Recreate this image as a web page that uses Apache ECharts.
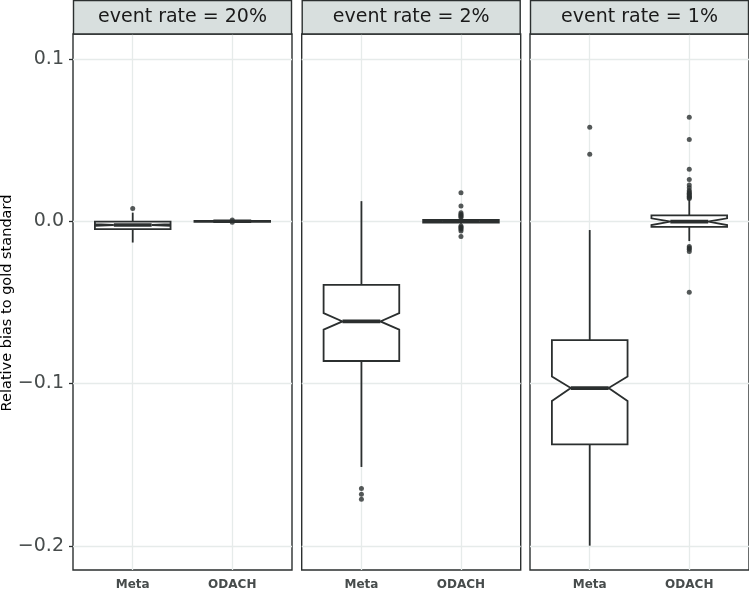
<!DOCTYPE html>
<html><head><meta charset="utf-8">
<script src="https://cdn.jsdelivr.net/npm/echarts@6/dist/echarts.min.js"></script>
<style>html,body{margin:0;padding:0;background:#fff}#c{width:749px;height:591px}</style>
</head><body><div id="c"></div>
<script>
// ---- data ----
const categories = ['Meta', 'ODACH'];
const panelTitles = ['event rate = 20%', 'event rate = 2%', 'event rate = 1%'];
const yTicks = [-0.2, -0.1, 0.0, 0.1];
const yTitle = 'Relative bias to gold standard';
// box stats: [lowerWhisker, q1, notchLow, median, notchHigh, q3, upperWhisker]
const rate20Meta  = [-0.0131, -0.0048, -0.0028, -0.0023, -0.0018, -0.0002, 0.0053];
const rate20ODACH = [-0.0006, -0.0003, -0.0001, 0.0000, 0.0001, 0.0003, 0.0006];
const rate2Meta   = [-0.1514, -0.0861, -0.0668, -0.0617, -0.0566, -0.0392, 0.0124];
const rate2ODACH  = [-0.0015, -0.0008, -0.0001, 0.0000, 0.0001, 0.0008, 0.0015];
const rate1Meta   = [-0.1999, -0.1375, -0.1108, -0.1028, -0.0957, -0.0732, -0.0054];
const rate1ODACH  = [-0.0122, -0.0034, -0.0023, -0.0002, 0.0018, 0.0036, 0.0135];
// outliers
const rate20MetaOut  = [0.0079];
const rate20ODACHOut = [0.0008, -0.0006];
const rate2MetaOut   = [-0.1647, -0.1682, -0.1713];
const rate2ODACHOut  = [0.0176, 0.0094, 0.0053, 0.0043, 0.0037, 0.0030, 0.0023, -0.0029, -0.0035, -0.0042, -0.0049, -0.0060, -0.0094];
const rate1MetaOut   = [0.0579, 0.0413];
const rate1ODACHOut  = [0.0641, 0.0504, 0.0320, 0.0258, 0.0223, 0.0207, 0.0190, 0.0180, 0.0172, 0.0166, 0.0158, 0.0152, 0.0146, 0.0140,
                        -0.0156, -0.0165, -0.0172, -0.0186, -0.0438];

const boxes = [[rate20Meta, rate20ODACH], [rate2Meta, rate2ODACH], [rate1Meta, rate1ODACH]];
const outs = [[rate20MetaOut, rate20ODACHOut], [rate2MetaOut, rate2ODACHOut], [rate1MetaOut, rate1ODACHOut]];

// ---- layout ----
const FONT = 'DejaVu Sans';
const panelLefts = [73, 301.7, 530];
const panelW = 219, panelTop = 34, panelBottom = 19.3;
const yMin = -0.2149, yMax = 0.1154;
const INK = '#2b2f2f', GRIDC = '#e6ebea';

const chart = echarts.init(document.getElementById('c'), null, {renderer: 'canvas'});

function renderBox(params, api) {
  const x = api.value(0);
  const lw = api.value(1), q1 = api.value(2), nl = api.value(3), med = api.value(4),
        nh = api.value(5), q3 = api.value(6), uw = api.value(7);
  const hw = 0.38;
  const P = (xx, yy) => api.coord([xx, yy]);
  const poly = [P(x - hw, q3), P(x + hw, q3), P(x + hw, nh), P(x + hw / 2, med), P(x + hw, nl),
                P(x + hw, q1), P(x - hw, q1), P(x - hw, nl), P(x - hw / 2, med), P(x - hw, nh)];
  const a = P(x, q3), b = P(x, uw), c = P(x, q1), d = P(x, lw);
  const m1 = P(x - hw / 2, med), m2 = P(x + hw / 2, med);
  const ls = {stroke: INK, lineWidth: 1.8};
  return {type: 'group', children: [
    {type: 'line', shape: {x1: a[0], y1: a[1], x2: b[0], y2: b[1]}, style: ls},
    {type: 'line', shape: {x1: c[0], y1: c[1], x2: d[0], y2: d[1]}, style: ls},
    {type: 'polygon', shape: {points: poly}, style: {fill: '#fff', stroke: INK, lineWidth: 1.8}},
    {type: 'line', shape: {x1: m1[0], y1: m1[1], x2: m2[0], y2: m2[1]}, style: {stroke: INK, lineWidth: 3.6}}
  ]};
}

const grids = [], xAxes = [], yAxes = [], series = [], graphics = [];
for (let i = 0; i < 3; i++) {
  grids.push({left: panelLefts[i], width: panelW, top: panelTop, bottom: panelBottom, show: true,
              borderColor: INK, borderWidth: 1.4, backgroundColor: '#fff'});
  xAxes.push({type: 'value', gridIndex: i, min: 0.4, max: 2.6,
    axisLine: {show: false},
    axisTick: {show: false, customValues: [1, 2]},
    axisLabel: {customValues: [1, 2], formatter: v => categories[Math.round(v) - 1] || '',
                fontFamily: FONT, fontWeight: 'bold', fontSize: 12, color: '#474c4c', margin: 9},
    splitLine: {show: true, lineStyle: {color: GRIDC, width: 1.3}}});
  yAxes.push({type: 'value', gridIndex: i, min: yMin, max: yMax,
    axisLine: {show: false},
    axisTick: {show: i === 0, customValues: yTicks, length: 4, lineStyle: {color: INK, width: 1.3}},
    axisLabel: {show: i === 0, customValues: yTicks,
                formatter: v => (v < 0 ? '\u2212' : '') + Math.abs(v).toFixed(1),
                fontFamily: FONT, fontSize: 19, color: '#474c4c', margin: 9},
    splitLine: {show: true, lineStyle: {color: GRIDC, width: 1.3}}});
  series.push({type: 'custom', xAxisIndex: i, yAxisIndex: i, renderItem: renderBox,
    encode: {x: 0, y: [1, 2, 3, 4, 5, 6, 7]},
    data: boxes[i].map((b, k) => [k + 1].concat(b)), z: 3, silent: true});
  const pts = [];
  outs[i].forEach((arr, k) => arr.forEach(v => pts.push([k + 1, v])));
  series.push({type: 'scatter', xAxisIndex: i, yAxisIndex: i, data: pts, symbolSize: 5,
    itemStyle: {color: INK}, z: 4, silent: true});
  graphics.push({type: 'rect', shape: {x: panelLefts[i] + 0.5, y: 0.5, width: panelW - 1, height: panelTop - 0.5},
    style: {fill: '#d8dfde', stroke: INK, lineWidth: 1.4}, z: 10});
  graphics.push({type: 'text', x: panelLefts[i] + panelW / 2, y: panelTop / 2 + 0.5,
    style: {text: panelTitles[i], fontFamily: FONT, fontSize: 19, fill: '#1a1a1a',
            align: 'center', verticalAlign: 'middle'}, z: 11});
}
graphics.push({type: 'text', x: 7, y: 303, rotation: Math.PI / 2,
  style: {text: yTitle, fontFamily: FONT, fontSize: 14.5, fill: '#000',
          align: 'center', verticalAlign: 'middle'}});

chart.setOption({
  animation: false,
  backgroundColor: '#fff',
  grid: grids, xAxis: xAxes, yAxis: yAxes, series: series, graphic: graphics
});
</script></body></html>
